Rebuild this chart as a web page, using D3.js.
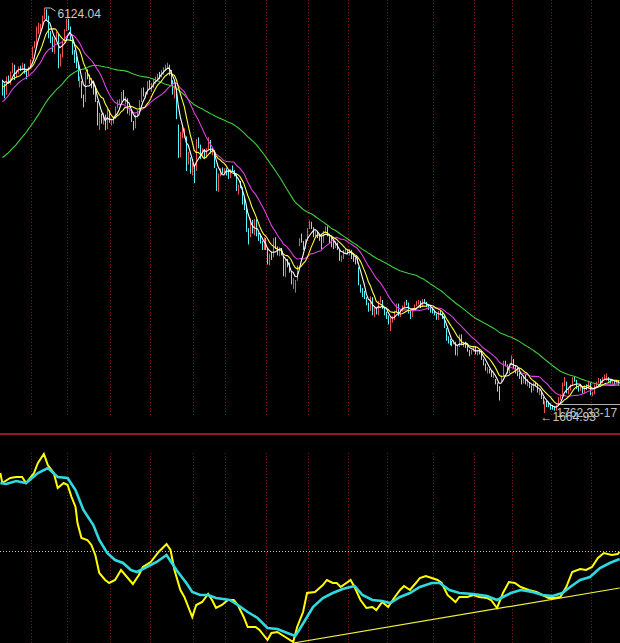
<!DOCTYPE html>
<html><head><meta charset="utf-8">
<script src="https://cdn.jsdelivr.net/npm/d3@7"></script>
<style>html,body{margin:0;padding:0;background:#000;overflow:hidden}</style>
</head><body><svg id="c" width="620" height="643"></svg>
<script>
// closes before the first visible candle (for moving-average warm-up)
const warmupCloses = [4115,4150,4252,4269,4213,4291,4091,3941,4080,4089,3914,3820,3836,3893,3816,3615,3781,3883,3916,3851,3899,3914,3821,3916,3931,3959,4058,4213,4291,4302,4345,4345,4440,4471,4300,4407,4560,4628,4652,4659,4786,4749,4820,4872,4869,4870,4656,4848,4897,4980,5033,5107,5150,5194,5087,5135,5218,5321,5294,5310,5393,5355];

const opens = [5330,5270,5180,5350,5300,5440,5480,5380,5420,5470,5460,5500,5420,5390,5480,
5570,5700,5720,5910,5900,5910,6040,6080,6030,5820,5800,5660,5770,5830,5540,5590,5750,5880,
5960,5900,5760,5630,5530,5510,5310,5300,5150,5100,5410,5360,5320,5260,5210,5080,4830,4950,4850,4940,4800,4990,
4860,4870,4920,5040,5090,5100,5180,5100,5120,4960,5000,4870,4830,4940,4980,5100,5230,5170,5180,5300,
5270,5270,5320,5360,5390,5380,5430,5450,5480,5490,5420,5280,5180,5220,4820,4500,4700,4760,4700,4410,4420,4300,
4370,4330,4660,4600,4490,4550,4490,4570,4660,4550,4550,4350,4110,4290,4340,4320,
4340,4310,4290,4340,4330,4290,4110,4170,4140,3970,3930,3640,3620,3780,3650,3790,3620,3580,3530,3480,3570,
3460,3320,3400,3390,3580,3480,3400,3470,3380,3170,3340,3280,3220,3070,3080,3130,3580,3570,3550,3480,3570,
3700,3750,3700,3610,3650,3610,3600,3550,3660,3700,3620,3550,3540,3490,3530,3460,3360,3370,3450,3460,
3430,3450,3370,3360,3320,3260,3060,3020,2950,2930,2870,2800,2930,2740,2820,2750,2890,2900,2810,2740,
2730,2640,2700,2700,2780,2860,2740,2800,2840,2870,2860,2770,2730,2810,2850,2870,2890,2840,2900,2880,2840,2830,2790,
2770,2750,2700,2780,2750,2740,2590,2460,2450,2430,2430,2440,2310,2400,2520,2410,2440,2400,2340,2320,2350,
2390,2320,2350,2340,2250,2200,2140,2140,2130,2070,2030,1980,1920,2070,2080,2220,2190,2110,2200,
2250,2160,2150,2090,2060,2000,2070,1990,1990,1960,1920,1990,1980,1890,1890,1830,1760,1770,1750,1740,
1730,1710,1700,1750,1830,1870,1990,2000,1880,1930,1970,2050,2020,1930,1930,1940,1890,1960,1940,1990,
1870,1880,1970,2000,2030,2000,2050,2050,2050,2030,2000,2010,2000,2010,1990];

const highs = [5335,5290,5370,5380,5425,5520,5500,5440,5480,5490,5520,5510,5440,5480,5560,
5700,5760,5920,5960,5950,6040,6124.04,6110,6040,5870,5810,5790,5860,5840,5620,5760,5890,6005,
6005,5920,5780,5660,5590,5530,5370,5320,5170,5420,5450,5390,5350,5290,5240,5100,4970,4960,4970,4950,5010,5000,
4900,4930,5040,5110,5120,5200,5220,5150,5130,5030,5010,4880,4950,5000,5110,5240,5250,5200,5320,5330,
5300,5340,5370,5400,5420,5440,5470,5500,5522,5500,5440,5330,5270,5230,4840,4760,4830,4800,4710,4540,4480,4420,
4400,4680,4700,4620,4580,4570,4580,4700,4670,4590,4560,4360,4300,4360,4370,4360,
4360,4340,4350,4390,4340,4300,4180,4220,4150,4040,3940,3700,3810,3790,3800,3800,3650,3640,3560,3600,3590,
3470,3420,3440,3590,3600,3500,3490,3480,3390,3360,3360,3320,3230,3150,3130,3290,3590,3640,3560,3580,3700,
3786,3770,3710,3670,3660,3640,3620,3670,3720,3720,3640,3600,3560,3560,3540,3470,3400,3460,3480,3470,
3470,3460,3400,3380,3390,3270,3080,3040,3010,2940,2880,2950,2940,2840,2830,2900,2950,2910,2830,2780,
2740,2720,2730,2790,2870,2870,2810,2850,2890,2910,2880,2790,2820,2860,2900,2910,2900,2920,2920,2890,2860,2840,2810,
2790,2760,2790,2800,2770,2750,2600,2510,2480,2460,2470,2450,2410,2530,2530,2450,2450,2410,2360,2360,2400,
2400,2360,2360,2350,2260,2210,2170,2150,2140,2100,2040,2000,1960,2080,2240,2240,2200,2210,2300,
2260,2190,2160,2110,2070,2080,2090,2040,2000,1970,2000,2010,1990,1920,1900,1840,1800,1800,1790,1770,
1750,1740,1760,1840,1870,2000,2060,2010,1940,1980,2060,2070,2030,1960,1970,1950,1970,1980,2010,2000,
1900,1980,2010,2050,2040,2060,2090,2100,2060,2040,2030,2020,2030,2020,2000];

const lows = [5160,5130,5170,5290,5280,5410,5330,5360,5400,5430,5440,5400,5340,5380,5470,
5560,5680,5700,5840,5870,5900,6000,5990,5790,5740,5640,5620,5760,5460,5480,5580,5740,5870,
5880,5760,5610,5520,5460,5320,5250,5130,5030,5090,5340,5290,5240,5170,5090,4830,4780,4850,4840,4778,4790,4860,
4830,4850,4910,5020,5060,5090,5100,5060,4960,4940,4870,4778,4800,4920,4970,5090,5150,5130,5170,5230,
5200,5240,5290,5330,5340,5360,5390,5430,5460,5380,5270,5170,5130,4900,4474,4480,4690,4690,4330,4400,4300,4280,
4196,4330,4580,4460,4470,4460,4470,4560,4520,4500,4360,4110,4100,4270,4300,4300,
4280,4240,4250,4320,4270,4110,4070,4140,3960,3900,3660,3520,3600,3640,3620,3610,3560,3530,3460,3460,3460,
3300,3290,3350,3380,3470,3400,3390,3400,3170,3160,3270,3210,3080,3030,2990,3120,3500,3540,3460,3470,3560,
3690,3690,3600,3590,3590,3560,3470,3540,3640,3610,3530,3490,3470,3480,3460,3340,3330,3360,3420,3410,
3400,3360,3330,3300,3310,3070,2990,2940,2920,2850,2780,2790,2740,2720,2750,2740,2880,2810,2740,2700,
2640,2566,2660,2690,2770,2730,2720,2780,2820,2850,2760,2700,2720,2800,2840,2860,2820,2830,2870,2830,2800,2770,2760,
2740,2690,2690,2740,2700,2600,2460,2430,2410,2400,2420,2300,2290,2390,2410,2390,2380,2340,2290,2310,2340,
2310,2300,2310,2250,2190,2130,2100,2100,2060,2050,1980,1900,1802.33,2010,2070,2180,2100,2100,2190,
2150,2100,2070,2040,1980,1990,1980,1960,1940,1890,1910,1960,1890,1860,1820,1760,1664.93,1730,1730,1700,
1700,1690,1690,1740,1810,1860,1960,1880,1870,1910,1960,2010,1930,1900,1910,1880,1880,1920,1930,1860,
1850,1870,1950,1990,1980,1990,2030,2020,2010,1990,1980,1970,1990,1970,1960];

const closes = [5278,5179,5362,5310,5421,5499,5397,5425,5468,5454,5497,5425,5395,5470,5552,
5692,5715,5914,5914,5903,6030,6092,6036,5826,5818,5667,5770,5843,5562,5589,5748,5880,5954,
5914,5777,5634,5538,5519,5330,5316,5158,5074,5412,5368,5316,5270,5214,5105,4838,4958,4861,4954,4803,4999,4871,
4868,4917,5035,5092,5091,5181,5110,5130,4970,5008,4876,4836,4941,4981,5101,5234,5176,5174,5308,5261,
5272,5320,5362,5394,5386,5435,5456,5485,5497,5443,5291,5180,5243,4914,4559,4703,4761,4761,4419,4417,4320,4383,
4320,4672,4599,4490,4552,4497,4571,4673,4553,4565,4370,4123,4286,4345,4330,4348,
4320,4299,4336,4334,4300,4123,4164,4148,3972,3962,3668,3623,3800,3656,3796,3622,3587,3539,3480,3580,3472,
3329,3407,3386,3586,3483,3412,3472,3413,3180,3348,3291,3222,3094,3116,3118,3278,3584,3557,3479,3566,3693,
3761,3706,3613,3657,3613,3607,3560,3658,3710,3626,3551,3545,3495,3528,3473,3365,3367,3453,3461,3433,
3459,3376,3362,3329,3377,3072,3024,2957,2939,2874,2794,2941,2748,2831,2760,2895,2906,2822,2750,2736,
2651,2705,2703,2780,2864,2741,2803,2837,2866,2868,2774,2729,2811,2847,2871,2891,2837,2903,2890,2843,2831,2790,2775,
2762,2704,2781,2753,2747,2605,2470,2457,2439,2429,2450,2319,2403,2523,2416,2443,2405,2349,2325,2350,2397,
2325,2349,2342,2262,2202,2143,2145,2132,2078,2079,1987,1929,1895,2075,2236,2201,2114,2201,2293,
2173,2154,2092,2074,2000,2073,1993,1995,1963,1930,1990,1984,1897,1895,1840,1771,1772,1763,1746,1729,
1719,1706,1747,1838,1843,1994,2011,1889,1930,1971,2056,2029,1938,1929,1951,1896,1966,1938,1995,1871,
1891,1977,2003,2032,1997,2051,2054,2056,2029,2006,2018,2001,2013,1989,1976];

// candle index of the first trading day of each month (Oct 2007 .. Dec 2008)
const monthStarts = [15,33,55,75,97,113,134,155,175,195,218,239,258,278,298];

const maPeriods = [60,20,10,5];
const maColors = ["#40d040","#e040e0","#ffff40","#ffffff"];

// lower pane indicator: [candle index, value]
const fastLine = [[-1,39],[0,34],[4,36.5],[7,37],[10,37],[12,34],[16,39],[18,44],[21,48.5],[23,43],[26,39],[28,31.5],[31,34],[33,33],[35,27],[37,22],[38,14],[40,6.5],[43,5.5],[45,3],[47,-2],[49,-11],[52,-14.5],[54,-16],[57,-14.5],[60,-9.5],[63,-13],[66,-16.5],[69,-12],[71,-8],[75,-5.5],[79,-0.5],[83,3.5],[85,0.5],[87,-9.5],[90,-19.5],[92,-23],[96,-33],[98,-27],[101,-25.5],[104,-21.5],[106,-24.5],[108,-28.5],[111,-27],[114,-24.5],[117,-24.5],[119,-27],[122,-33],[124,-38],[128,-38],[130,-39.5],[134,-44.5],[136,-41],[139,-40.5],[143,-43],[147,-45.5],[149,-38],[152,-30.5],[154,-21],[158,-20.5],[162,-17],[164,-14.5],[167,-16],[169,-16],[171,-18],[176,-14.5],[178,-18],[181,-24.5],[184,-28.5],[187,-28],[189,-29.5],[192,-25.5],[195,-28],[198,-23.5],[201,-19.5],[203,-17.5],[206,-19.5],[209,-16],[211,-13.5],[214,-12.5],[217,-13.5],[220,-14.5],[222,-16],[225,-22],[229,-25.5],[231,-23],[235,-23],[238,-22],[241,-23],[245,-23.5],[247,-24.5],[250,-28.5],[253,-21],[256,-15.5],[259,-16],[262,-18],[266,-19.5],[270,-20.5],[273,-22],[276,-23.5],[279,-23.5],[282,-23],[285,-18],[288,-10.5],[292,-9],[295,-9.5],[298,-8],[301,-3.5],[304,-1],[308,-2],[311,-1.5],[312,-0.5]];
const slowLine = [[-1,34],[2,33.5],[7,35],[12,34],[18,39],[23,41.5],[28,37],[33,36.5],[37,30.5],[41,20.5],[46,13],[49,5.5],[53,-1],[57,-4.5],[61,-6],[65,-9.5],[68,-10.5],[73,-8],[78,-5.5],[83,-2],[88,-9.5],[93,-16],[96,-20.5],[100,-22],[104,-22],[108,-23.5],[115,-24.5],[119,-27],[124,-30.5],[129,-33.5],[134,-38.5],[139,-39],[144,-41],[148,-42.5],[150,-39.5],[154,-33],[157,-28],[162,-23.5],[167,-21],[172,-19],[178,-17.5],[182,-22],[187,-24.5],[192,-25],[196,-26],[201,-23],[206,-21],[211,-18],[217,-16],[221,-16],[226,-19.5],[231,-21],[238,-21.5],[245,-22.5],[250,-24.5],[257,-21],[262,-19.5],[268,-20.5],[273,-22],[278,-22.5],[283,-21],[287,-18],[292,-14.5],[297,-13],[302,-8.5],[307,-6],[312,-4]];
const trendLine = [[147,-46],[312,-18.5]];
const refLevel = 0;

(function () {
const svg = d3.select("#c");
const W = 620, H = 643;
const x = d3.scaleLinear().domain([14.5, 297.5]).range([31, 591]);
const y = d3.scaleLinear().domain([1664.93, 6124.04]).range([413, 8]);
const yo = d3.scaleLinear().domain([-46, 50]).range([643, 451]);

svg.append("rect").attr("width", W).attr("height", H).attr("fill", "#000");
const defs = svg.append("defs");
defs.append("clipPath").attr("id", "clipTop").append("rect").attr("x", 0).attr("y", 0).attr("width", W).attr("height", 432);
defs.append("clipPath").attr("id", "clipBot").append("rect").attr("x", 0).attr("y", 437).attr("width", W).attr("height", H - 437);

// month separators
const grid = svg.append("g");
monthStarts.forEach(m => {
  const xx = Math.round(x(m - 0.5)) + 0.5;
  grid.append("line").attr("x1", xx).attr("x2", xx).attr("y1", 0).attr("y2", 417)
    .attr("stroke", "#7c1616").attr("stroke-dasharray", "1,2");
  grid.append("line").attr("x1", xx).attr("x2", xx).attr("y1", 453).attr("y2", H)
    .attr("stroke", "#7c1616").attr("stroke-dasharray", "1,2");
});

// pane separator
svg.append("line").attr("x1", 0).attr("x2", W).attr("y1", 434).attr("y2", 434)
  .attr("stroke", "#9a1622").attr("stroke-width", 2);

// reference dotted line in lower pane
const ry = Math.round(yo(refLevel)) + 0.5;
svg.append("line").attr("x1", 0).attr("x2", W).attr("y1", ry).attr("y2", ry)
  .attr("stroke", "#c8c8c8").attr("stroke-dasharray", "1,2");

// candles
const topG = svg.append("g").attr("clip-path", "url(#clipTop)");
const idx = d3.range(closes.length);
topG.append("g").selectAll("line").data(idx).join("line")
  .attr("x1", i => Math.round(x(i)) + 0.5).attr("x2", i => Math.round(x(i)) + 0.5)
  .attr("y1", i => y(highs[i])).attr("y2", i => y(lows[i]))
  .attr("stroke", i => closes[i] >= opens[i] ? "#f05050" : "#54f4ff")
  .attr("stroke-width", 1);

// moving averages
const allC = warmupCloses.concat(closes);
const off = warmupCloses.length;
function ma(p) {
  return closes.map((_, i) => {
    const k = i + off;
    return d3.mean(allC.slice(Math.max(0, k - p + 1), k + 1));
  });
}
maPeriods.forEach((p, j) => {
  const vals = ma(p);
  topG.append("path").datum(vals)
    .attr("d", d3.line().x((d, i) => x(i)).y(d => y(d)))
    .attr("fill", "none").attr("stroke", maColors[j]).attr("stroke-width", 1.1);
});

// high / low annotations
const iMax = d3.maxIndex(highs), iMin = d3.minIndex(lows);
const hx = Math.round(x(iMax)) + 0.5, hy = y(highs[iMax]);
svg.append("path").attr("d", `M${hx},${hy} L${hx + 6},${hy} L${hx + 11},${hy + 3}`)
  .attr("fill", "none").attr("stroke", "#c0c0c0").attr("stroke-width", 1);
svg.append("text").attr("x", hx + 13).attr("y", hy + 10)
  .attr("font-family", "Liberation Sans, Arial, sans-serif").attr("font-size", 12)
  .attr("fill", "#c8c8c8").text(d3.format(".2f")(highs[iMax]));

const levelPrice = 1762.33;
const ly = Math.round(y(levelPrice)) + 0.5;
svg.append("line").attr("x1", Math.round(x(iMin + 8))).attr("x2", W).attr("y1", ly).attr("y2", ly)
  .attr("stroke", "#b0b0b0").attr("stroke-width", 1);
svg.append("text").attr("x", x(iMin) + 12).attr("y", y(lows[iMin]) + 4)
  .attr("font-family", "Liberation Sans, Arial, sans-serif").attr("font-size", 12)
  .attr("fill", "#c0c0c0").text("1762.33-17");
svg.append("text").attr("x", x(iMin) - 4).attr("y", y(lows[iMin]) + 8)
  .attr("font-family", "Liberation Sans, Arial, sans-serif").attr("font-size", 12)
  .attr("fill", "#c8c8c8").text("\u2190" + d3.format(".2f")(lows[iMin]));

// lower pane
const botG = svg.append("g").attr("clip-path", "url(#clipBot)");
const ol = d3.line().x(d => x(d[0])).y(d => yo(d[1]));
botG.append("path").datum(trendLine).attr("d", ol).attr("fill", "none").attr("stroke", "#f0f040").attr("stroke-width", 1.2);
botG.append("path").datum(fastLine).attr("d", ol).attr("fill", "none").attr("stroke", "#ffff00").attr("stroke-width", 2);
botG.append("path").datum(slowLine).attr("d", ol).attr("fill", "none").attr("stroke", "#30d8e0").attr("stroke-width", 2.6);
})();
</script></body></html>
